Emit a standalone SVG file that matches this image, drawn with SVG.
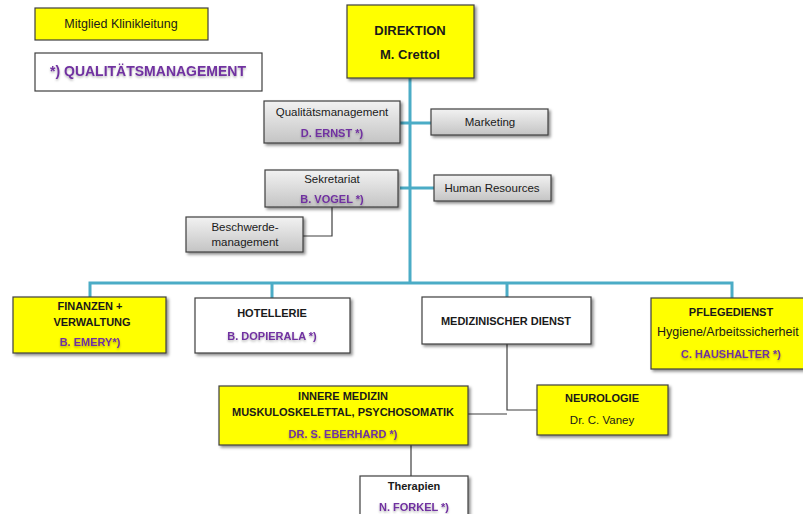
<svg xmlns="http://www.w3.org/2000/svg" width="803" height="514" viewBox="0 0 803 514">
<defs>
<linearGradient id="gray" x1="0" y1="0" x2="0" y2="1">
<stop offset="0" stop-color="#f2f2f2"/>
<stop offset="1" stop-color="#c4c4c4"/>
</linearGradient>
<filter id="sh" x="-10%" y="-10%" width="130%" height="140%">
<feDropShadow dx="2" dy="2" stdDeviation="1.5" flood-color="#000" flood-opacity="0.45"/>
</filter>
<filter id="tsh" x="-5%" y="-20%" width="110%" height="160%">
<feDropShadow dx="0" dy="1.5" stdDeviation="1" flood-color="#000" flood-opacity="0.3"/>
</filter>
</defs>
<style>
.box{stroke:#3f3f3f;stroke-width:1.2;filter:url(#sh)}
.y{fill:#ffff00}
.w{fill:#ffffff}
.g{fill:url(#gray)}
text{font-family:"Liberation Sans",Arial,sans-serif;text-anchor:middle;fill:#1a1a1a}
.t{font-size:11.5px}
.b{font-size:11px;font-weight:bold}
.p{font-size:11px;font-weight:bold;fill:#7030a0;filter:url(#tsh)}
.teal{stroke:#4bacc6;stroke-width:3;fill:none}
.thin{stroke:#3f3f3f;stroke-width:1.2;fill:none}
</style>
<rect width="803" height="514" fill="#ffffff"/>
<g id="connectors">
<path class="teal" d="M410 78V283M400 123H431M400 188H434M90 297V283H732V298M272 283V298M507 283V297"/>
<path class="thin" d="M332 207V236H303M507 344V410H537M468 414H507M411 445V476"/>
</g>
<g id="legend-klinikleitung">
<rect class="box y" x="35" y="8" width="173" height="32" style="filter:none"/>
<text class="t" x="121" y="28" style="font-size:12.5px">Mitglied Klinikleitung</text>
</g>
<g id="legend-qm">
<rect class="box w" x="35" y="53" width="227" height="38" style="filter:none"/>
<text class="p" x="148" y="76" style="font-size:14px;font-weight:900">*) QUALITÄTSMANAGEMENT</text>
</g>
<g id="direktion">
<rect class="box y" x="347" y="5" width="127" height="73"/>
<text class="b" x="410" y="35" style="font-size:13px">DIREKTION</text>
<text class="b" x="410" y="59" style="font-size:13px">M. Crettol</text>
</g>
<g id="qualitaetsmanagement">
<rect class="box g" x="264" y="101" width="136" height="42"/>
<text class="t" x="332" y="116">Qualitätsmanagement</text>
<text class="p" x="332" y="137">D. ERNST *)</text>
</g>
<g id="marketing">
<rect class="box g" x="431" y="109" width="117" height="26"/>
<text class="t" x="490" y="126">Marketing</text>
</g>
<g id="sekretariat">
<rect class="box g" x="265" y="170" width="133" height="37"/>
<text class="t" x="332" y="183">Sekretariat</text>
<text class="p" x="332" y="203">B. VOGEL *)</text>
</g>
<g id="human-resources">
<rect class="box g" x="434" y="175" width="117" height="26"/>
<text class="t" x="492" y="192">Human Resources</text>
</g>
<g id="beschwerdemanagement">
<rect class="box g" x="186" y="217" width="117" height="35"/>
<text class="t" x="245" y="231">Beschwerde-</text>
<text class="t" x="245" y="246">management</text>
</g>
<g id="finanzen">
<rect class="box y" x="13" y="297" width="153" height="56"/>
<text class="b" x="90" y="310">FINANZEN +</text>
<text class="b" x="92" y="326">VERWALTUNG</text>
<text class="p" x="90" y="346">B. EMERY*)</text>
</g>
<g id="hotellerie">
<rect class="box w" x="195" y="298" width="155" height="55"/>
<text class="b" x="272" y="317">HOTELLERIE</text>
<text class="p" x="272" y="340">B. DOPIERALA *)</text>
</g>
<g id="medizinischer-dienst">
<rect class="box w" x="422" y="297" width="169" height="47"/>
<text class="b" x="506" y="325">MEDIZINISCHER DIENST</text>
</g>
<g id="pflegedienst">
<rect class="box y" x="651" y="298" width="160" height="71"/>
<text class="b" x="731" y="316">PFLEGEDIENST</text>
<text x="657" y="336" style="text-anchor:start;font-size:12.5px">Hygiene/Arbeitssicherheit</text>
<text class="p" x="731" y="358">C. HAUSHALTER *)</text>
</g>
<g id="innere-medizin">
<rect class="box y" x="219" y="386" width="249" height="59"/>
<text class="b" x="343" y="400">INNERE MEDIZIN</text>
<text class="b" x="343" y="416">MUSKULOSKELETTAL, PSYCHOSOMATIK</text>
<text class="p" x="343" y="438">DR. S. EBERHARD *)</text>
</g>
<g id="neurologie">
<rect class="box y" x="537" y="385" width="131" height="50"/>
<text class="b" x="602" y="402">NEUROLOGIE</text>
<text class="t" x="602" y="424">Dr. C. Vaney</text>
</g>
<g id="therapien">
<rect class="box w" x="360" y="476" width="108" height="45"/>
<text class="b" x="414" y="490">Therapien</text>
<text class="p" x="414" y="511">N. FORKEL *)</text>
</g>
</svg>
